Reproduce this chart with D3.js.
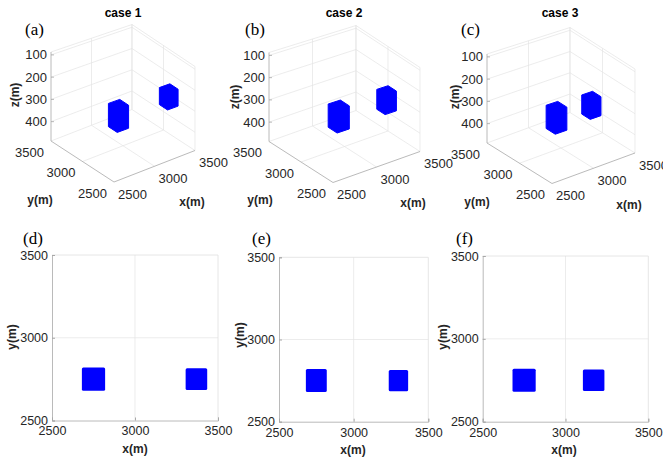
<!DOCTYPE html>
<html>
<head>
<meta charset="utf-8">
<script src="https://cdn.jsdelivr.net/npm/d3@7"></script>
<style>
  body { margin: 0; background: #fff; }
  svg text { font-family: "Liberation Sans", Arial, sans-serif; fill: #262626; }
</style>
</head>
<body>
<div id="chart"></div>
<script>
// data
var caseNames = ["case 1", "case 2", "case 3"];
var tags3d = ["(a)", "(b)", "(c)"];
var tags2d = ["(d)", "(e)", "(f)"];
var xyTicks = [2500, 3000, 3500];
var zTicks = [100, 200, 300, 400];
var zRange = [87, 487];

// left source is the same in every case
var leftX = [2680, 2820];
var leftY = [2680, 2820];
var leftZ = [214, 320];
// right source moves towards the left one
var rightX = [[3305, 3435], [3235, 3365], [3105, 3235]];
var rightY = [2685, 2815];
var rightZ = [[223, 303], [218, 311], [220, 309]];

var W = 663, H = 459;
var svg = d3.select("#chart").append("svg")
    .attr("width", W).attr("height", H);

var gridCol = "#e4e4e4", axisCol = "#a8a8a8", blue = "#0000ff";

// geometry of the 3d panels (front corner, x / y directions, heights)
var p3 = [
  {F: [114, 182], xv: [81, -31.5], yv: [-63, -41], h: [88, -4, 1]},
  {F: [333, 182.5], xv: [87, -31], yv: [-64, -41], h: [88, -4, 1]},
  {F: [552, 183.5], xv: [83, -30.5], yv: [-65, -40.5], h: [88, -4, 1]}
];
var lab3 = [
  {z: [15, 95], y: [40, 200], x: [192, 202], title: [123, 13], tag: [25, 35]},
  {z: [235, 97], y: [260, 200], x: [413, 203], title: [344, 13], tag: [245, 35]},
  {z: [455, 97], y: [477, 202], x: [629, 205], title: [560, 13], tag: [461, 35]}
];

// 2d panels
var p2 = [
  {l: 52, r: 218, t: 255, b: 420.5, xl: [135, 449], yl: [12, 337], tag: [23, 244]},
  {l: 279, r: 428.3, t: 257.3, b: 421.7, xl: [353, 450], yl: [240, 335], tag: [252, 244]},
  {l: 482.7, r: 648.3, t: 256, b: 421.7, xl: [564, 450], yl: [443, 337], tag: [456, 244]}
];

function corners(xr, yr, zr) {
  var pts = [];
  xr.forEach(function(x) { yr.forEach(function(y) { zr.forEach(function(z) { pts.push([x, y, z]); }); }); });
  return pts;
}

p3.forEach(function(p, i) {
  var g = svg.append("g");
  var us = d3.scaleLinear().domain([2500, 3500]).range([0, 1]);
  var vs = d3.scaleLinear().domain([2500, 3500]).range([0, 1]);
  var zs = d3.scaleLinear().domain(zRange).range([1, 0]);
  function proj(x, y, z) {
    var u = us(x), v = vs(y);
    var hh = p.h[0] + p.h[1] * u + p.h[2] * v;
    return [p.F[0] + u * p.xv[0] + v * p.yv[0],
            p.F[1] + u * p.xv[1] + v * p.yv[1] - zs(z) * hh];
  }
  function seg(a, b, col, w) {
    var A = proj.apply(null, a), B = proj.apply(null, b);
    g.append("line").attr("x1", A[0]).attr("y1", A[1]).attr("x2", B[0]).attr("y2", B[1])
      .attr("stroke", col).attr("stroke-width", w);
  }
  var z0 = zRange[0], z1 = zRange[1];
  // back walls and floor grid
  zTicks.concat([z0]).forEach(function(z) {
    seg([2500, 3500, z], [3500, 3500, z], gridCol, 0.7);
    seg([3500, 3500, z], [3500, 2500, z], gridCol, 0.7);
  });
  xyTicks.slice(1).forEach(function(t) {
    seg([t, 3500, z0], [t, 3500, z1], gridCol, 0.7);
    seg([3500, t, z0], [3500, t, z1], gridCol, 0.7);
  });
  seg([3500, 2500, z0], [3500, 2500, z1], gridCol, 0.7);
  xyTicks.slice(1).forEach(function(t) {
    seg([t, 2500, z1], [t, 3500, z1], gridCol, 0.7);
    seg([2500, t, z1], [3500, t, z1], gridCol, 0.7);
  });
  // axes
  seg([2500, 3500, z0], [2500, 3500, z1], axisCol, 0.8);
  seg([2500, 2500, z1], [2500, 3500, z1], axisCol, 0.8);
  seg([2500, 2500, z1], [3500, 2500, z1], axisCol, 0.8);

  // tick labels
  zTicks.forEach(function(z) {
    var P = proj(2500, 3500, z);
    g.append("line").attr("x1", P[0]).attr("x2", P[0] + 3).attr("y1", P[1]).attr("y2", P[1])
      .attr("stroke", axisCol).attr("stroke-width", 0.8);
    g.append("text").attr("x", P[0] - 4).attr("y", P[1]).attr("dy", "0.35em")
      .attr("text-anchor", "end").style("font-size", "13px").text(z);
  });
  xyTicks.forEach(function(t) {
    var P = proj(2500, t, z1);
    g.append("text").attr("x", P[0] - 7).attr("y", P[1] + 11).attr("dy", "0.35em")
      .attr("text-anchor", "end").style("font-size", "13px").text(t);
    var Q = proj(t, 2500, z1);
    g.append("text").attr("x", Q[0] + 4).attr("y", Q[1] + 12).attr("dy", "0.35em")
      .attr("text-anchor", "start").style("font-size", "13px").text(t);
  });

  // sources as projected boxes
  var boxes = [corners(leftX, leftY, leftZ), corners(rightX[i], rightY, rightZ[i])];
  boxes.forEach(function(b) {
    var hull = d3.polygonHull(b.map(function(c) { return proj(c[0], c[1], c[2]); }));
    g.append("path").attr("d", "M" + hull.join("L") + "Z")
      .attr("fill", blue).attr("stroke", blue).attr("stroke-width", 1).attr("stroke-linejoin", "round");
  });

  var L = lab3[i];
  g.append("text").attr("transform", "translate(" + L.z[0] + "," + L.z[1] + ") rotate(-90)")
    .attr("dy", "0.35em").attr("text-anchor", "middle")
    .style("font-size", "12px").style("font-weight", "bold").text("z(m)");
  g.append("text").attr("x", L.y[0]).attr("y", L.y[1]).attr("dy", "0.35em").attr("text-anchor", "middle")
    .style("font-size", "12px").style("font-weight", "bold").text("y(m)");
  g.append("text").attr("x", L.x[0]).attr("y", L.x[1]).attr("dy", "0.35em").attr("text-anchor", "middle")
    .style("font-size", "12px").style("font-weight", "bold").text("x(m)");
  g.append("text").attr("x", L.title[0]).attr("y", L.title[1]).attr("dy", "0.35em").attr("text-anchor", "middle")
    .style("font-size", "12px").style("font-weight", "bold").style("fill", "#000").text(caseNames[i]);
  g.append("text").attr("x", L.tag[0]).attr("y", L.tag[1])
    .style("font-family", "'Liberation Serif', 'Times New Roman', serif").style("font-size", "17px")
    .style("fill", "#000").text(tags3d[i]);
});

p2.forEach(function(p, i) {
  var g = svg.append("g");
  var x = d3.scaleLinear().domain([2500, 3500]).range([p.l, p.r]);
  var y = d3.scaleLinear().domain([2500, 3500]).range([p.b, p.t]);

  g.append("line").attr("x1", x(3000)).attr("x2", x(3000)).attr("y1", p.t).attr("y2", p.b)
    .attr("stroke", gridCol).attr("stroke-width", 0.7);
  g.append("line").attr("x1", p.l).attr("x2", p.r).attr("y1", y(3000)).attr("y2", y(3000))
    .attr("stroke", gridCol).attr("stroke-width", 0.7);
  g.append("path").attr("d", "M" + p.l + "," + p.t + "H" + p.r + "V" + p.b)
    .attr("fill", "none").attr("stroke", "#e0e0e0").attr("stroke-width", 0.8);

  var xAxis = g.append("g").attr("transform", "translate(0," + p.b + ")")
    .call(d3.axisBottom(x).tickValues(xyTicks).tickFormat(d3.format("d")).tickSize(-3).tickPadding(6));
  var yAxis = g.append("g").attr("transform", "translate(" + p.l + ",0)")
    .call(d3.axisLeft(y).tickValues(xyTicks).tickFormat(d3.format("d")).tickSize(-3).tickPadding(4));
  [xAxis, yAxis].forEach(function(a) {
    a.select(".domain").attr("stroke", axisCol).attr("stroke-width", 0.8);
    a.selectAll(".tick line").attr("stroke", axisCol);
    a.selectAll(".tick text").style("font-family", "'Liberation Sans', Arial, sans-serif")
      .style("font-size", "12.5px").attr("fill", "#262626");
  });

  var sq = [[leftX, leftY], [rightX[i], rightY]];
  g.selectAll("rect.src").data(sq).enter().append("rect").attr("class", "src")
    .attr("x", function(d) { return x(d[0][0]); })
    .attr("y", function(d) { return y(d[1][1]); })
    .attr("width", function(d) { return x(d[0][1]) - x(d[0][0]); })
    .attr("height", function(d) { return y(d[1][0]) - y(d[1][1]); })
    .attr("rx", 1.5).attr("fill", blue);

  g.append("text").attr("x", p.xl[0]).attr("y", p.xl[1]).attr("dy", "0.35em").attr("text-anchor", "middle")
    .style("font-size", "12px").style("font-weight", "bold").text("x(m)");
  g.append("text").attr("transform", "translate(" + p.yl[0] + "," + p.yl[1] + ") rotate(-90)")
    .attr("dy", "0.35em").attr("text-anchor", "middle")
    .style("font-size", "12px").style("font-weight", "bold").text("y(m)");
  g.append("text").attr("x", p.tag[0]).attr("y", p.tag[1])
    .style("font-family", "'Liberation Serif', 'Times New Roman', serif").style("font-size", "17px")
    .style("fill", "#000").text(tags2d[i]);
});
</script>
</body>
</html>
